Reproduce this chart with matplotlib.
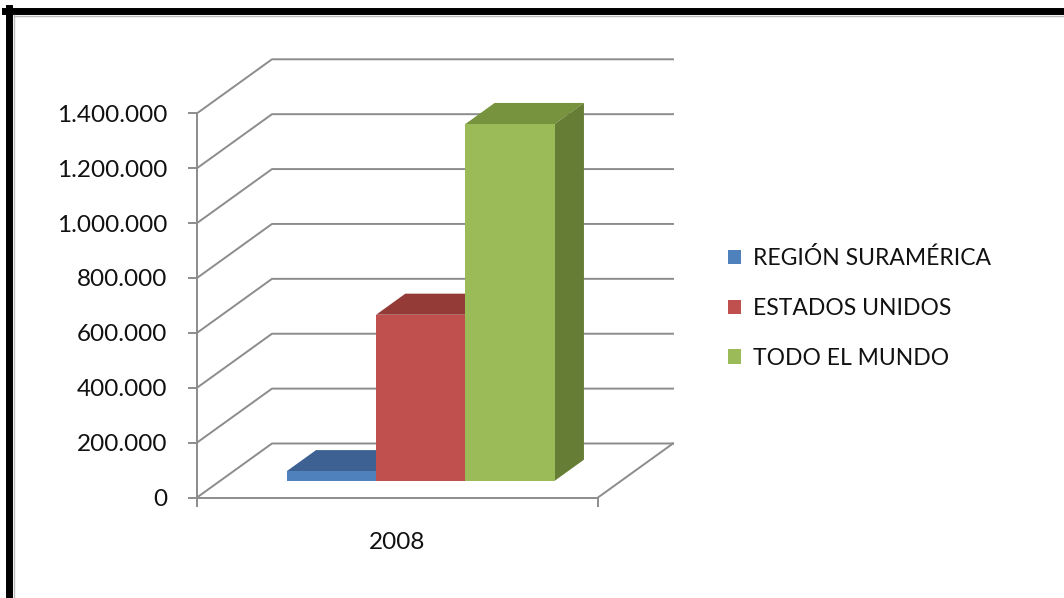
import matplotlib.pyplot as plt
import numpy as np
from matplotlib.patches import Polygon, Patch
from matplotlib.lines import Line2D
from matplotlib.ticker import FuncFormatter

plt.rcParams['font.family'] = ['Lato', 'DejaVu Sans']

# datos
categoria = '2008'
series = ['REGIÓN SURAMÉRICA', 'ESTADOS UNIDOS', 'TODO EL MUNDO']
valores = [35000, 605000, 1300000]
yticks = np.arange(0, 1400001, 200000)

col_frente = ['#4F81BD', '#C0504D', '#9BBB59']
col_techo = ['#3D6192', '#943B38', '#77933D']
col_lado = ['#355680', '#7F302D', '#657D35']
gris = '#8C8C8C'
texto = '#111111'

# "profundidad" del efecto 3D, en unidades de datos
DX, DY = 0.187, 196800
ancho = 0.2227
f_frente, f_prof = 0.31, 0.39

fig = plt.figure(figsize=(10.64, 5.98), dpi=100)
W, H = 1064, 598
ax = fig.add_axes([197/W, 100.5/H, 401/W, 384.2/H])
ax.set_xlim(0, 1)
ax.set_ylim(0, 1400000)

# lineas de division: pared izquierda + pared del fondo
for v in yticks:
    ax.plot([0, DX, 1 + DX], [v, v + DY, v + DY], color=gris, lw=1.4,
            clip_on=False, zorder=1)
# borde derecho del piso
ax.plot([1, 1 + DX], [0, DY], color=gris, lw=1.4, clip_on=False, zorder=1)

# barras con caras de techo y lado
for i, v in enumerate(valores):
    x0 = 0.5 + (i - 1) * ancho - ancho / 2 + f_frente * DX
    b = f_frente * DY
    px, py = f_prof * DX, f_prof * DY
    z = 3 + 3 * i
    techo = Polygon([(x0, b + v), (x0 + ancho, b + v),
                     (x0 + ancho + px, b + v + py), (x0 + px, b + v + py)],
                    closed=True, facecolor=col_techo[i], edgecolor='none',
                    zorder=z, clip_on=False)
    lado = Polygon([(x0 + ancho, b), (x0 + ancho + px, b + py),
                    (x0 + ancho + px, b + v + py), (x0 + ancho, b + v)],
                   closed=True, facecolor=col_lado[i], edgecolor='none',
                   zorder=z + 1, clip_on=False)
    ax.add_patch(techo)
    ax.add_patch(lado)
    ax.bar(x0, v, width=ancho, bottom=b, align='edge', color=col_frente[i],
           zorder=z + 2, clip_on=False)

# ejes
for s in ['top', 'right']:
    ax.spines[s].set_visible(False)
for s in ['left', 'bottom']:
    ax.spines[s].set_color(gris)
    ax.spines[s].set_linewidth(1.4)
ax.set_yticks(yticks)
ax.yaxis.set_major_formatter(FuncFormatter(lambda v, p: f'{int(v):,}'.replace(',', '.')))
ax.tick_params(axis='y', direction='out', length=6.5, width=1.4, color=gris,
               labelsize=17.5, labelcolor=texto, pad=15)
ax.set_xticks([0, 1])
ax.set_xticklabels(['', ''])
ax.tick_params(axis='x', which='major', direction='out', length=6.5, width=1.4, color=gris)
ax.set_xticks([0.5], minor=True)
ax.set_xticklabels([categoria], minor=True)
ax.tick_params(axis='x', which='minor', length=0, labelsize=17.5, labelcolor=texto, pad=25)

# leyenda
handles = [Patch(facecolor=c, edgecolor='none') for c in col_frente]
fig.legend(handles, series, loc='center left', bbox_to_anchor=(728/W, 1 - 308/H),
           frameon=False, fontsize=16.5, handlelength=0.57, handleheight=0.57,
           handletextpad=0.5, labelspacing=1.25, borderpad=0, borderaxespad=0,
           labelcolor=texto)

# marco negro (solo izquierda y arriba, como en la imagen)
fig.add_artist(Line2D([8.5/W, 8.5/W], [0, 1 - 8/H], lw=5, color='black', transform=fig.transFigure))
fig.add_artist(Line2D([5/W, 1], [1 - 11/H, 1 - 11/H], lw=5, color='black', transform=fig.transFigure))
fig.add_artist(Line2D([13.5/W, 13.5/W], [0, 1 - 15/H], lw=1, color='#BBBBBB', transform=fig.transFigure))
fig.add_artist(Line2D([13.5/W, 1], [1 - 15.5/H, 1 - 15.5/H], lw=1, color='#BBBBBB', transform=fig.transFigure))

fig.savefig('out.png', dpi=100)
